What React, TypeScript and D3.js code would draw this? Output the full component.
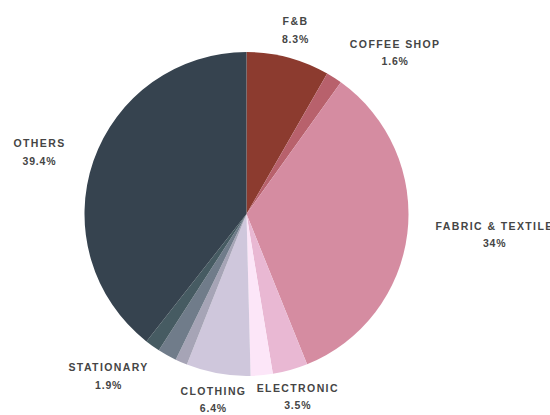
import React from "react";
import * as d3 from "d3";

const categories = [
  "F&B",
  "COFFEE SHOP",
  "FABRIC & TEXTILE",
  "ELECTRONIC",
  "OTHER PINK",
  "CLOTHING",
  "OTHER GREY",
  "STATIONARY",
  "OTHER TEAL",
  "OTHERS",
];
const values = [8.3, 1.6, 34, 3.5, 2.2, 6.4, 1.2, 1.9, 1.5, 39.4];
const valueLabels = ["8.3%", "1.6%", "34%", "3.5%", "", "6.4%", "", "1.9%", "", "39.4%"];
const showLabel = [true, true, true, true, false, true, false, true, false, true];
const colors = [
  "#8c3b2f",
  "#b8616c",
  "#d58ca1",
  "#e9b8d3",
  "#fce6f8",
  "#cfc7dc",
  "#a6a4b6",
  "#707c8a",
  "#465b62",
  "#36434f",
];
// label placement: radius and angular offset (degrees) around each slice's mid angle
const labelRadius = [190, 219, 249, 190, 190, 189, 190, 213, 190, 216];
const labelAngleShift = [0, 10, -2, 0, 0, 0, 0, 11, 0, -2.5];

const W = 550;
const H = 415;
const CX = 246.5;
const CY = 214;
const R = 162;

export default function App() {
  const data = categories.map((c, i) => ({ name: c, value: values[i], i }));
  const pie = d3.pie<any>().sort(null).value((d) => d.value);
  const arcs = pie(data);
  const arc = d3.arc<any>().innerRadius(0).outerRadius(R);

  return (
    <svg
      width={W}
      height={H}
      style={{ position: "absolute", left: 0, top: 0, background: "#fff" }}
    >
      <g transform={`translate(${CX},${CY})`}>
        {arcs.map((a) => (
          <path key={a.data.name} d={arc(a) || ""} fill={colors[a.data.i]} />
        ))}
        {arcs.map((a) => {
          const i = a.data.i;
          if (!showLabel[i]) return null;
          const mid = (a.startAngle + a.endAngle) / 2 + (labelAngleShift[i] * Math.PI) / 180;
          const lr = labelRadius[i];
          const x = Math.sin(mid) * lr;
          const y = -Math.cos(mid) * lr;
          return (
            <g key={"l" + i} transform={`translate(${x},${y})`}>
              <text
                textAnchor="middle"
                y={-9}
                dy="0.35em"
                fontFamily="'Liberation Sans', Arial, sans-serif"
                fontWeight="bold"
                fontSize={10.5}
                letterSpacing={1.4}
                fill="#454545"
              >
                {categories[i]}
              </text>
              <text
                textAnchor="middle"
                y={8.5}
                dy="0.35em"
                fontFamily="'Liberation Sans', Arial, sans-serif"
                fontWeight="bold"
                fontSize={10.5}
                letterSpacing={0.8}
                fill="#454545"
              >
                {valueLabels[i]}
              </text>
            </g>
          );
        })}
      </g>
    </svg>
  );
}
